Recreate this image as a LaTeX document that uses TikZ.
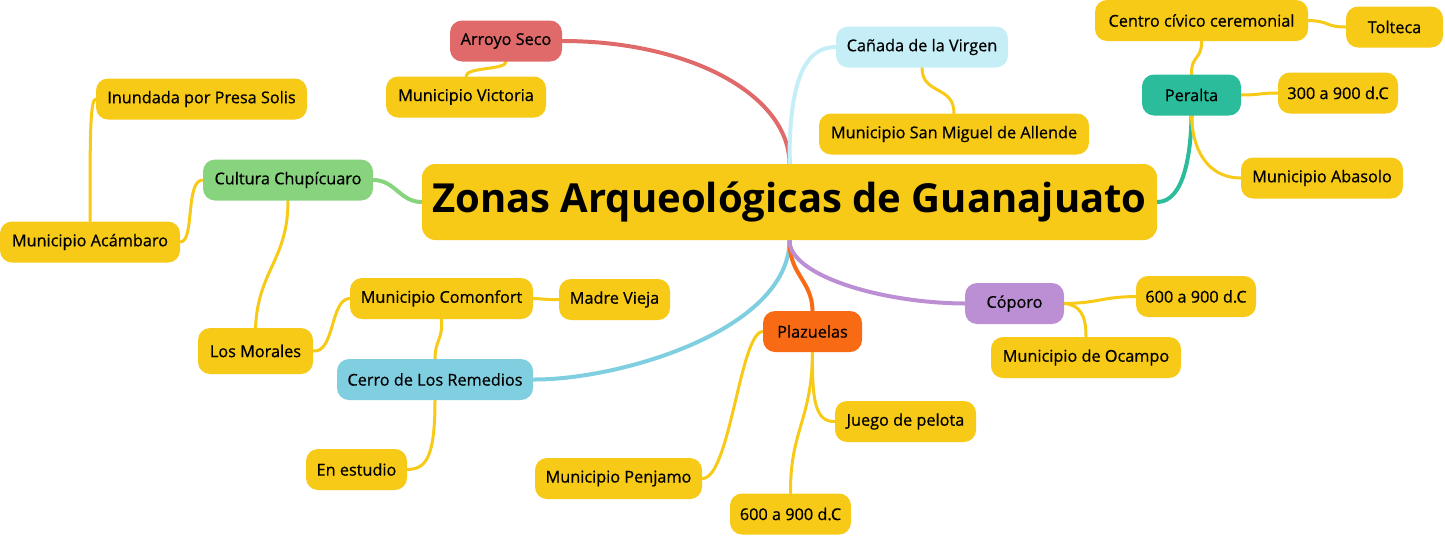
\documentclass[tikz,border=0pt]{standalone}
\usepackage{fontspec}
\setmainfont{Open Sans}
\newfontfamily\lblfont{Open Sans}[FakeBold=0.6]
\usetikzlibrary{backgrounds,calc}
\definecolor{cy}{HTML}{F6CA17}
\definecolor{cred}{HTML}{E06A6A}
\definecolor{clb}{HTML}{C5EEF7}
\definecolor{cteal}{HTML}{2BBD9B}
\definecolor{cgreen}{HTML}{88D47E}
\definecolor{cblue}{HTML}{7FCFE0}
\definecolor{corange}{HTML}{F86A14}
\definecolor{cpurple}{HTML}{BC8FD4}
\begin{document}
\begin{tikzpicture}[x=0.75pt,y=-0.75pt,
  box/.style={rounded corners=9pt, minimum height=30.75pt, inner sep=0pt, font=\lblfont\fontsize{12.2}{14}\selectfont, text=black},
  bw/.style={minimum width=#1*0.75pt},
  sub/.style={box, fill=cy},
  br/.style={line width=3pt, line cap=round},
  lk/.style={line width=2.25pt, draw=cy, line cap=round}]
\useasboundingbox (0,0) rectangle (1445,536);

\node[box,fill=cy,bw=735,minimum height=57pt,rounded corners=10pt,font=\fontsize{30}{33}\selectfont\bfseries] (root) at (789.5,202) {Zonas Arqueológicas de Guanajuato};
\node[box,fill=cred,bw=112] (arroyo) at (506,41) {Arroyo Seco};
\node[sub,bw=160] (victoria) at (466,97) {Municipio Victoria};
\node[box,fill=clb,bw=172] (canada) at (922,47) {Cañada de la Virgen};
\node[sub,bw=270] (sanmiguel) at (954,134) {Municipio San Miguel de Allende};
\node[box,fill=cteal,bw=99] (peralta) at (1191.5,95) {Peralta};
\node[sub,bw=213] (centro) at (1201.5,20.5) {Centro cívico ceremonial};
\node[sub,bw=97] (tolteca) at (1394.5,27) {Tolteca};
\node[sub,bw=120] (p300) at (1338,93) {300 a 900 d.C};
\node[sub,bw=162] (abasolo) at (1322,178) {Municipio Abasolo};
\node[box,fill=cgreen,bw=170] (cultura) at (288,180) {Cultura Chupícuaro};
\node[sub,bw=211] (inundada) at (201.5,99) {Inundada por Presa Solis};
\node[sub,bw=180] (acambaro) at (90,242) {Municipio Acámbaro};
\node[sub,bw=115,minimum height=34.5pt] (morales) at (255.5,351) {Los Morales};
\node[sub,bw=183] (comonfort) at (441.5,298.5) {Municipio Comonfort};
\node[sub,bw=111] (madre) at (614.5,299.5) {Madre Vieja};
\node[box,fill=cblue,bw=196] (cerro) at (435,379.5) {Cerro de Los Remedios};
\node[sub,bw=101] (estudio) at (356.5,469.5) {En estudio};
\node[box,fill=corange,bw=99] (plazuelas) at (812.5,331.5) {Plazuelas};
\node[sub,bw=141] (juego) at (905.5,421.5) {Juego de pelota};
\node[sub,bw=167] (penjamo) at (618.5,478.5) {Municipio Penjamo};
\node[sub,bw=121] (p600b) at (790.5,514) {600 a 900 d.C};
\node[box,fill=cpurple,bw=99] (coporo) at (1014.5,303.5) {Cóporo};
\node[sub,bw=120] (p600r) at (1196,296.5) {600 a 900 d.C};
\node[sub,bw=190] (ocampo) at (1086,357.5) {Municipio de Ocampo};

\begin{scope}[on background layer]
\draw[br,cred] (root.north) .. controls (789,95) and (690,41) .. (arroyo.east);
\draw[br,clb] (root.north) .. controls (789,80) and (805,47) .. (canada.west);
\draw[br,cteal] (root.east) .. controls (1185,202) and (1191,150) .. (peralta.south);
\draw[br,cgreen] (root.west) .. controls (400,202) and (395,180) .. (cultura.east);
\draw[br,cblue] (root.south) .. controls (789,330) and (620,380) .. (cerro.east);
\draw[br,corange] (root.south) .. controls (789,275) and (812,280) .. (plazuelas.north);
\draw[br,cpurple] (root.south) .. controls (789,275) and (880,303) .. (coporo.west);

\draw[lk] (arroyo.south) .. controls (506,70) and (466,67) .. (victoria.north);
\draw[lk] (canada.south) .. controls (922,95) and (954,85) .. (sanmiguel.north);
\draw[lk] (peralta.north) .. controls (1191,55) and (1202,60) .. (centro.south);
\draw[lk] (centro.east) .. controls (1330,21) and (1325,27) .. (tolteca.west);
\draw[lk] (peralta.east) .. controls (1260,95) and (1260,93) .. (p300.west);
\draw[lk] (peralta.south) .. controls (1193,160) and (1215,178) .. (abasolo.west);
\draw[lk] (cultura.west) .. controls (185,180) and (195,242) .. (acambaro.east);
\draw[lk] (acambaro.north) .. controls (90,140) and (90,99) .. (inundada.west);
\draw[lk] (cultura.south) .. controls (288,260) and (258,270) .. (morales.north);
\draw[lk] (morales.east) .. controls (335,353) and (330,299) .. (comonfort.west);
\draw[lk] (comonfort.east) .. controls (548,299) and (545,300) .. (madre.west);
\draw[lk] (cerro.north) .. controls (435,340) and (443,340) .. (comonfort.south);
\draw[lk] (cerro.south) .. controls (435,460) and (425,469) .. (estudio.east);
\draw[lk] (plazuelas.west) .. controls (740,332) and (730,479) .. (penjamo.east);
\draw[lk] (plazuelas.south) .. controls (812,400) and (815,422) .. (juego.west);
\draw[lk] (plazuelas.south) .. controls (812,420) and (790,430) .. (p600b.north);
\draw[lk] (coporo.east) .. controls (1100,303) and (1100,297) .. (p600r.west);
\draw[lk] (coporo.east) .. controls (1080,305) and (1086,315) .. (ocampo.north);
\end{scope}
\end{tikzpicture}
\end{document}
